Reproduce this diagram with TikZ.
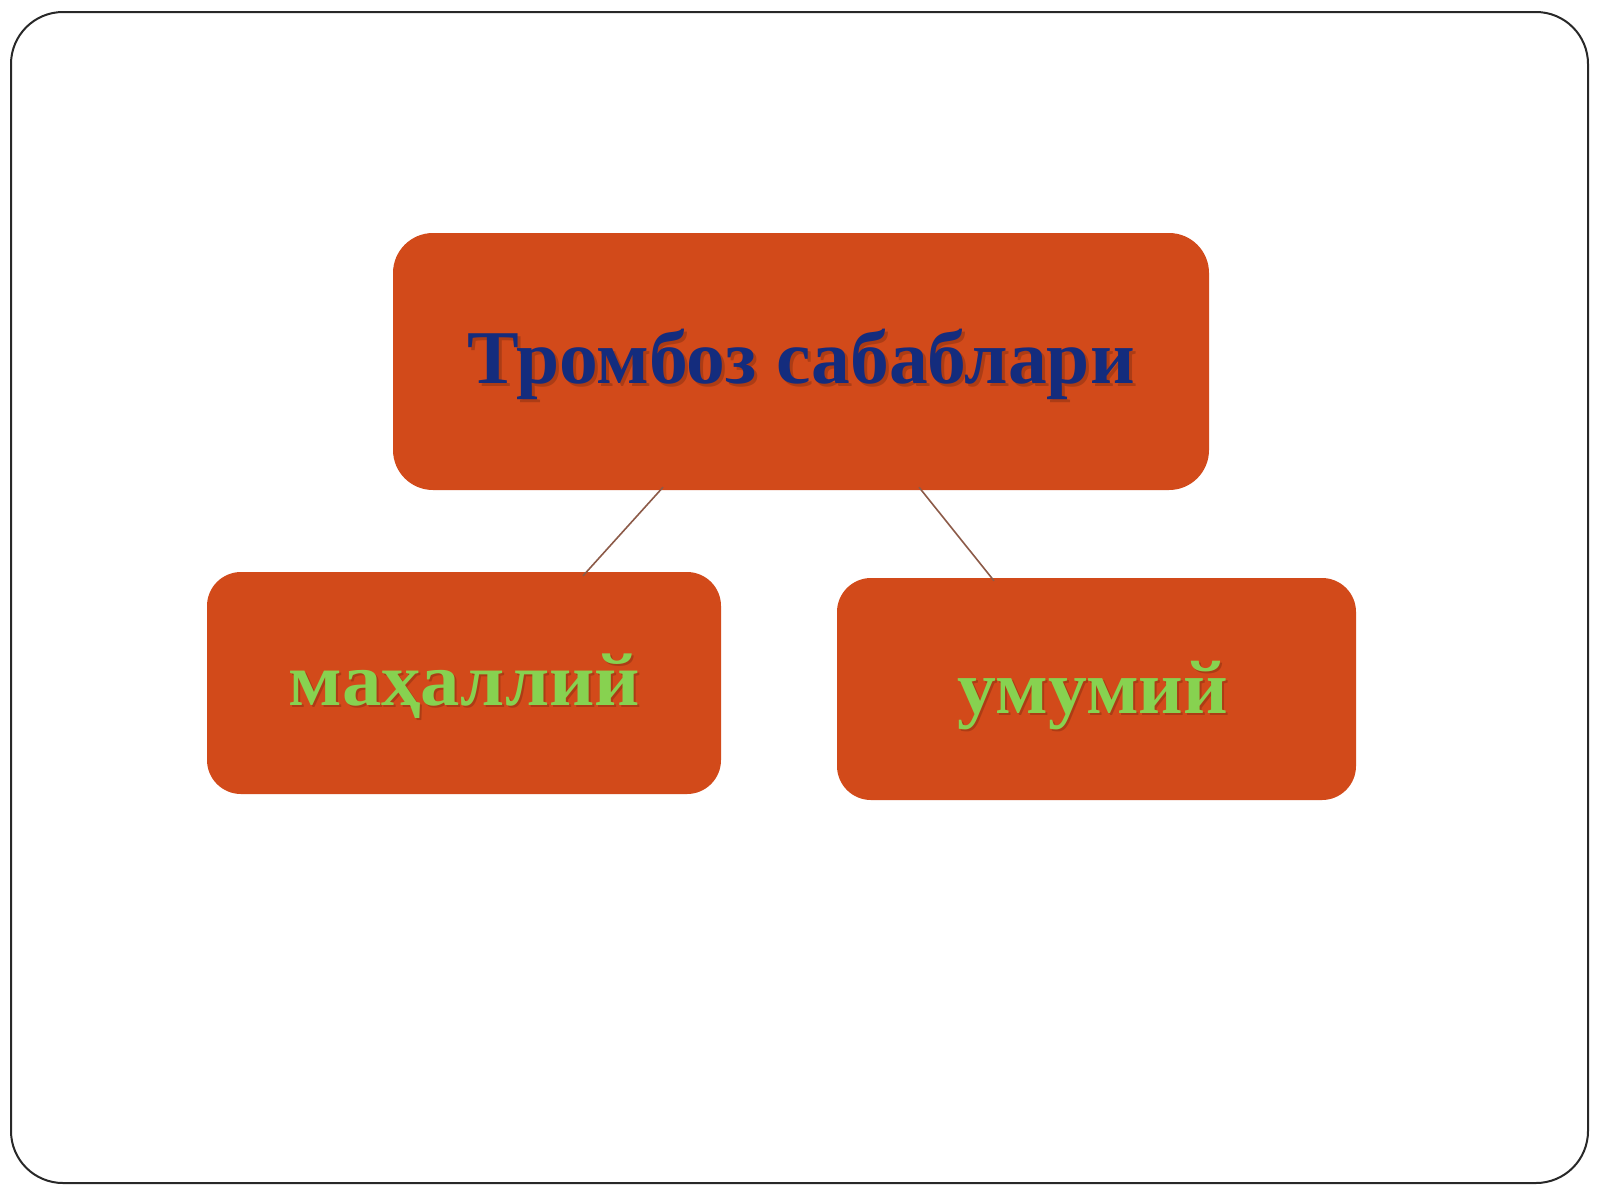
\documentclass[tikz,border=0pt]{standalone}
\usepackage{fontspec}
\setmainfont{Liberation Serif}
\usetikzlibrary{calc}
\definecolor{boxfill}{RGB}{210,74,26}
\definecolor{navytext}{RGB}{20,44,125}
\definecolor{greentext}{RGB}{135,210,80}
\definecolor{linkcol}{RGB}{140,90,72}
\definecolor{framecol}{RGB}{40,40,40}
\begin{document}
\begin{tikzpicture}[x=1pt,y=-1pt,
  card/.style={draw=none,fill=boxfill,rounded corners=40pt,inner sep=0pt},
  title/.style={font=\fontsize{76}{80}\selectfont\bfseries,text=navytext,inner sep=0pt,anchor=base,xscale=1.02},
  label/.style={font=\fontsize{75}{80}\selectfont\bfseries,text=greentext,inner sep=0pt,anchor=base},
  shade/.style={text=black,opacity=0.18},
  link/.style={draw=linkcol,line width=1.6pt}]
\useasboundingbox (0,0) rectangle (1600,1200);
\fill[white] (0,0) rectangle (1600,1200);
\draw[framecol,line width=2pt,rounded corners=52pt] (11,12) rectangle (1588,1183);
% boxes
\node[card,minimum width=816pt,minimum height=257pt] (top) at (801,361.5) {};
\node[card,minimum width=514pt,minimum height=222pt,rounded corners=34pt] (left) at (464,683) {};
\node[card,minimum width=519pt,minimum height=222pt,rounded corners=34pt] (right) at (1096.5,689) {};
% connectors
\draw[link] ([xshift=-138pt,yshift=3pt]top.south) -- ([xshift=119pt,yshift=-4pt]left.north);
\draw[link] ([xshift=118pt,yshift=3pt]top.south) -- ([xshift=-102.5pt,yshift=-3pt]right.north);
% texts
\node[title,shade] (topsh) at (804,386.5) {Тромбоз сабаблари};
\node[title] (toptext) at (801,383.5) {Тромбоз сабаблари};
\node[label,shade,xscale=1.05] (leftsh) at (466.5,707) {маҳаллий};
\node[label,xscale=1.05] (lefttext) at (464.5,705) {маҳаллий};
\node[label,shade,font=\fontsize{76}{80}\selectfont\bfseries,xscale=1.02] (rightsh) at (1095,715) {умумий};
\node[label,font=\fontsize{76}{80}\selectfont\bfseries,xscale=1.02] (righttext) at (1093,713) {умумий};
\end{tikzpicture}
\end{document}
